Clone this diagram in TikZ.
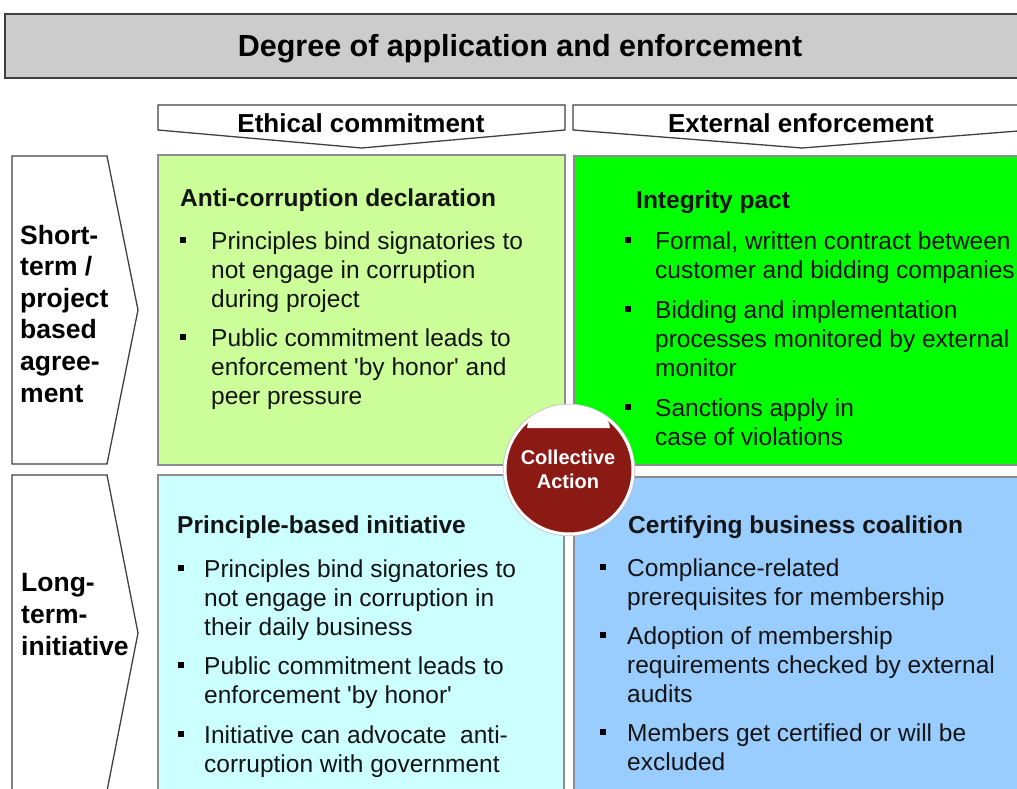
\documentclass[tikz,border=0pt]{standalone}
\usepackage{fontspec}
\setmainfont{Liberation Sans}[Ligatures=TeXOff]
\definecolor{titlegray}{HTML}{CCCCCC}
\definecolor{qtl}{HTML}{CCFF99}
\definecolor{qtr}{HTML}{00FF00}
\definecolor{qbl}{HTML}{CCFFFF}
\definecolor{qbr}{HTML}{99CCFF}
\definecolor{carust}{HTML}{8C1A14}
\tikzset{
  frame/.style={draw=black!75, line width=1.3pt},
  quad/.style={draw=black!45, line width=1.5pt},
  body/.style={anchor=base west, inner sep=0pt, align=left, text=black!92,
    font=\fontsize{24.5}{29.3}\selectfont},
  qtitle/.style={anchor=base west, inner sep=0pt, text=black!92,
    font=\fontsize{24.5}{29}\selectfont\bfseries},
  bul/.style={fill=black, minimum size=6pt, inner sep=0pt},
  side/.style={anchor=base west, inner sep=0pt, align=left,
    font=\fontsize{26.5}{31.6}\selectfont\bfseries},
  head/.style={inner sep=0pt, anchor=base, font=\fontsize{26}{30}\selectfont\bfseries},
}
\begin{document}
\begin{tikzpicture}[x=1pt,y=-1pt]
\useasboundingbox (0,0) rectangle (1017,789);
\clip (0,0) rectangle (1017,789);
% title bar
\draw[frame, fill=titlegray, line width=1.8pt] (5,14) rectangle (1040,78);
\node[inner sep=0pt, anchor=base, font=\fontsize{30.5}{34}\selectfont\bfseries] (title) at (520,57) {Degree of application and enforcement};
% column headers
\draw[frame, fill=white] (158,105) -- (565,105) -- (565,130) -- (361.5,148) -- (158,130) -- cycle;
\draw[frame, fill=white] (573,105) -- (1031,105) -- (1031,130) -- (802,148) -- (573,130) -- cycle;
\node[head] (eth) at (361,132) {Ethical commitment};
\node[head] (ext) at (801,132) {External enforcement};
% row headers
\draw[frame, fill=white] (12,156) -- (107,156) -- (138,310) -- (107,464) -- (12,464) -- cycle;
\draw[frame, fill=white] (12,475) -- (107,475) -- (138,633) -- (107,791) -- (12,791) -- cycle;
\node[side] (short) at (20,402) {Short-\\term /\\project\\based\\agree-\\ment};
\node[side] (long) at (21,655) {Long-\\term-\\initiative};
% quadrants
\draw[quad, fill=qtl] (158,155) rectangle (565,465);
\draw[quad, fill=qtr] (574,156) rectangle (1040,465);
\draw[quad, fill=qbl] (158,475) rectangle (564,800);
\draw[quad, fill=qbr] (574,477) rectangle (1040,800);
% top left (anchor = baseline of last line)
\node[qtitle] (tlt) at (180,206) {Anti-corruption declaration};
\node[bul] (tlb1) at (183,240) {};
\node[body] (tl1) at (211,307.6) {Principles bind signatories to\\not engage in corruption\\during project};
\node[bul] (tlb2) at (183,337) {};
\node[body] (tl2) at (211,404.6) {Public commitment leads to\\enforcement 'by honor' and\\peer pressure};
% top right
\node[qtitle] (trt) at (636,208) {Integrity pact};
\node[bul] (trb1) at (628,240) {};
\node[body] (tr1) at (655,278.3) {Formal, written contract between\\customer and bidding companies};
\node[bul] (trb2) at (628,309) {};
\node[body] (tr2) at (655,376.6) {Bidding and implementation\\processes monitored by external\\monitor};
\node[bul] (trb3) at (628,407) {};
\node[body] (tr3) at (655,445.3) {Sanctions apply in\\case of violations};
% bottom left
\node[qtitle] (blt) at (177,533) {Principle-based initiative};
\node[bul] (blb1) at (181,568) {};
\node[body] (bl1) at (204,635.6) {Principles bind signatories to\\not engage in corruption in\\their daily business};
\node[bul] (blb2) at (181,665) {};
\node[body] (bl2) at (204,703.3) {Public commitment leads to\\enforcement 'by honor'};
\node[bul] (blb3) at (181,734) {};
\node[body] (bl3) at (204,772.3) {Initiative can advocate\ \ anti-\\corruption with government};
% bottom right
\node[qtitle] (brt) at (628,533) {Certifying business coalition};
\node[bul] (brb1) at (603,567) {};
\node[body] (br1) at (627,605.3) {Compliance-related\\prerequisites for membership};
\node[bul] (brb2) at (603,635) {};
\node[body] (br2) at (627,702.6) {Adoption of membership\\requirements checked by external\\audits};
\node[bul] (brb3) at (603,732) {};
\node[body] (br3) at (627,770.3) {Members get certified or will be\\excluded};
% collective action
\draw[draw=black!25, line width=4.5pt] (569,470) circle[radius=64];
\draw[fill=carust, draw=white, line width=3pt] (569,470) circle[radius=64];
\fill[white] (527,428) arc[start angle=180, end angle=360, x radius=41.5, y radius=21] -- cycle;
\node[inner sep=0pt, align=center, text=white, font=\fontsize{20}{24}\selectfont\bfseries, anchor=base] (ca) at (568,488) {Collective\\Action};
\end{tikzpicture}
\end{document}
